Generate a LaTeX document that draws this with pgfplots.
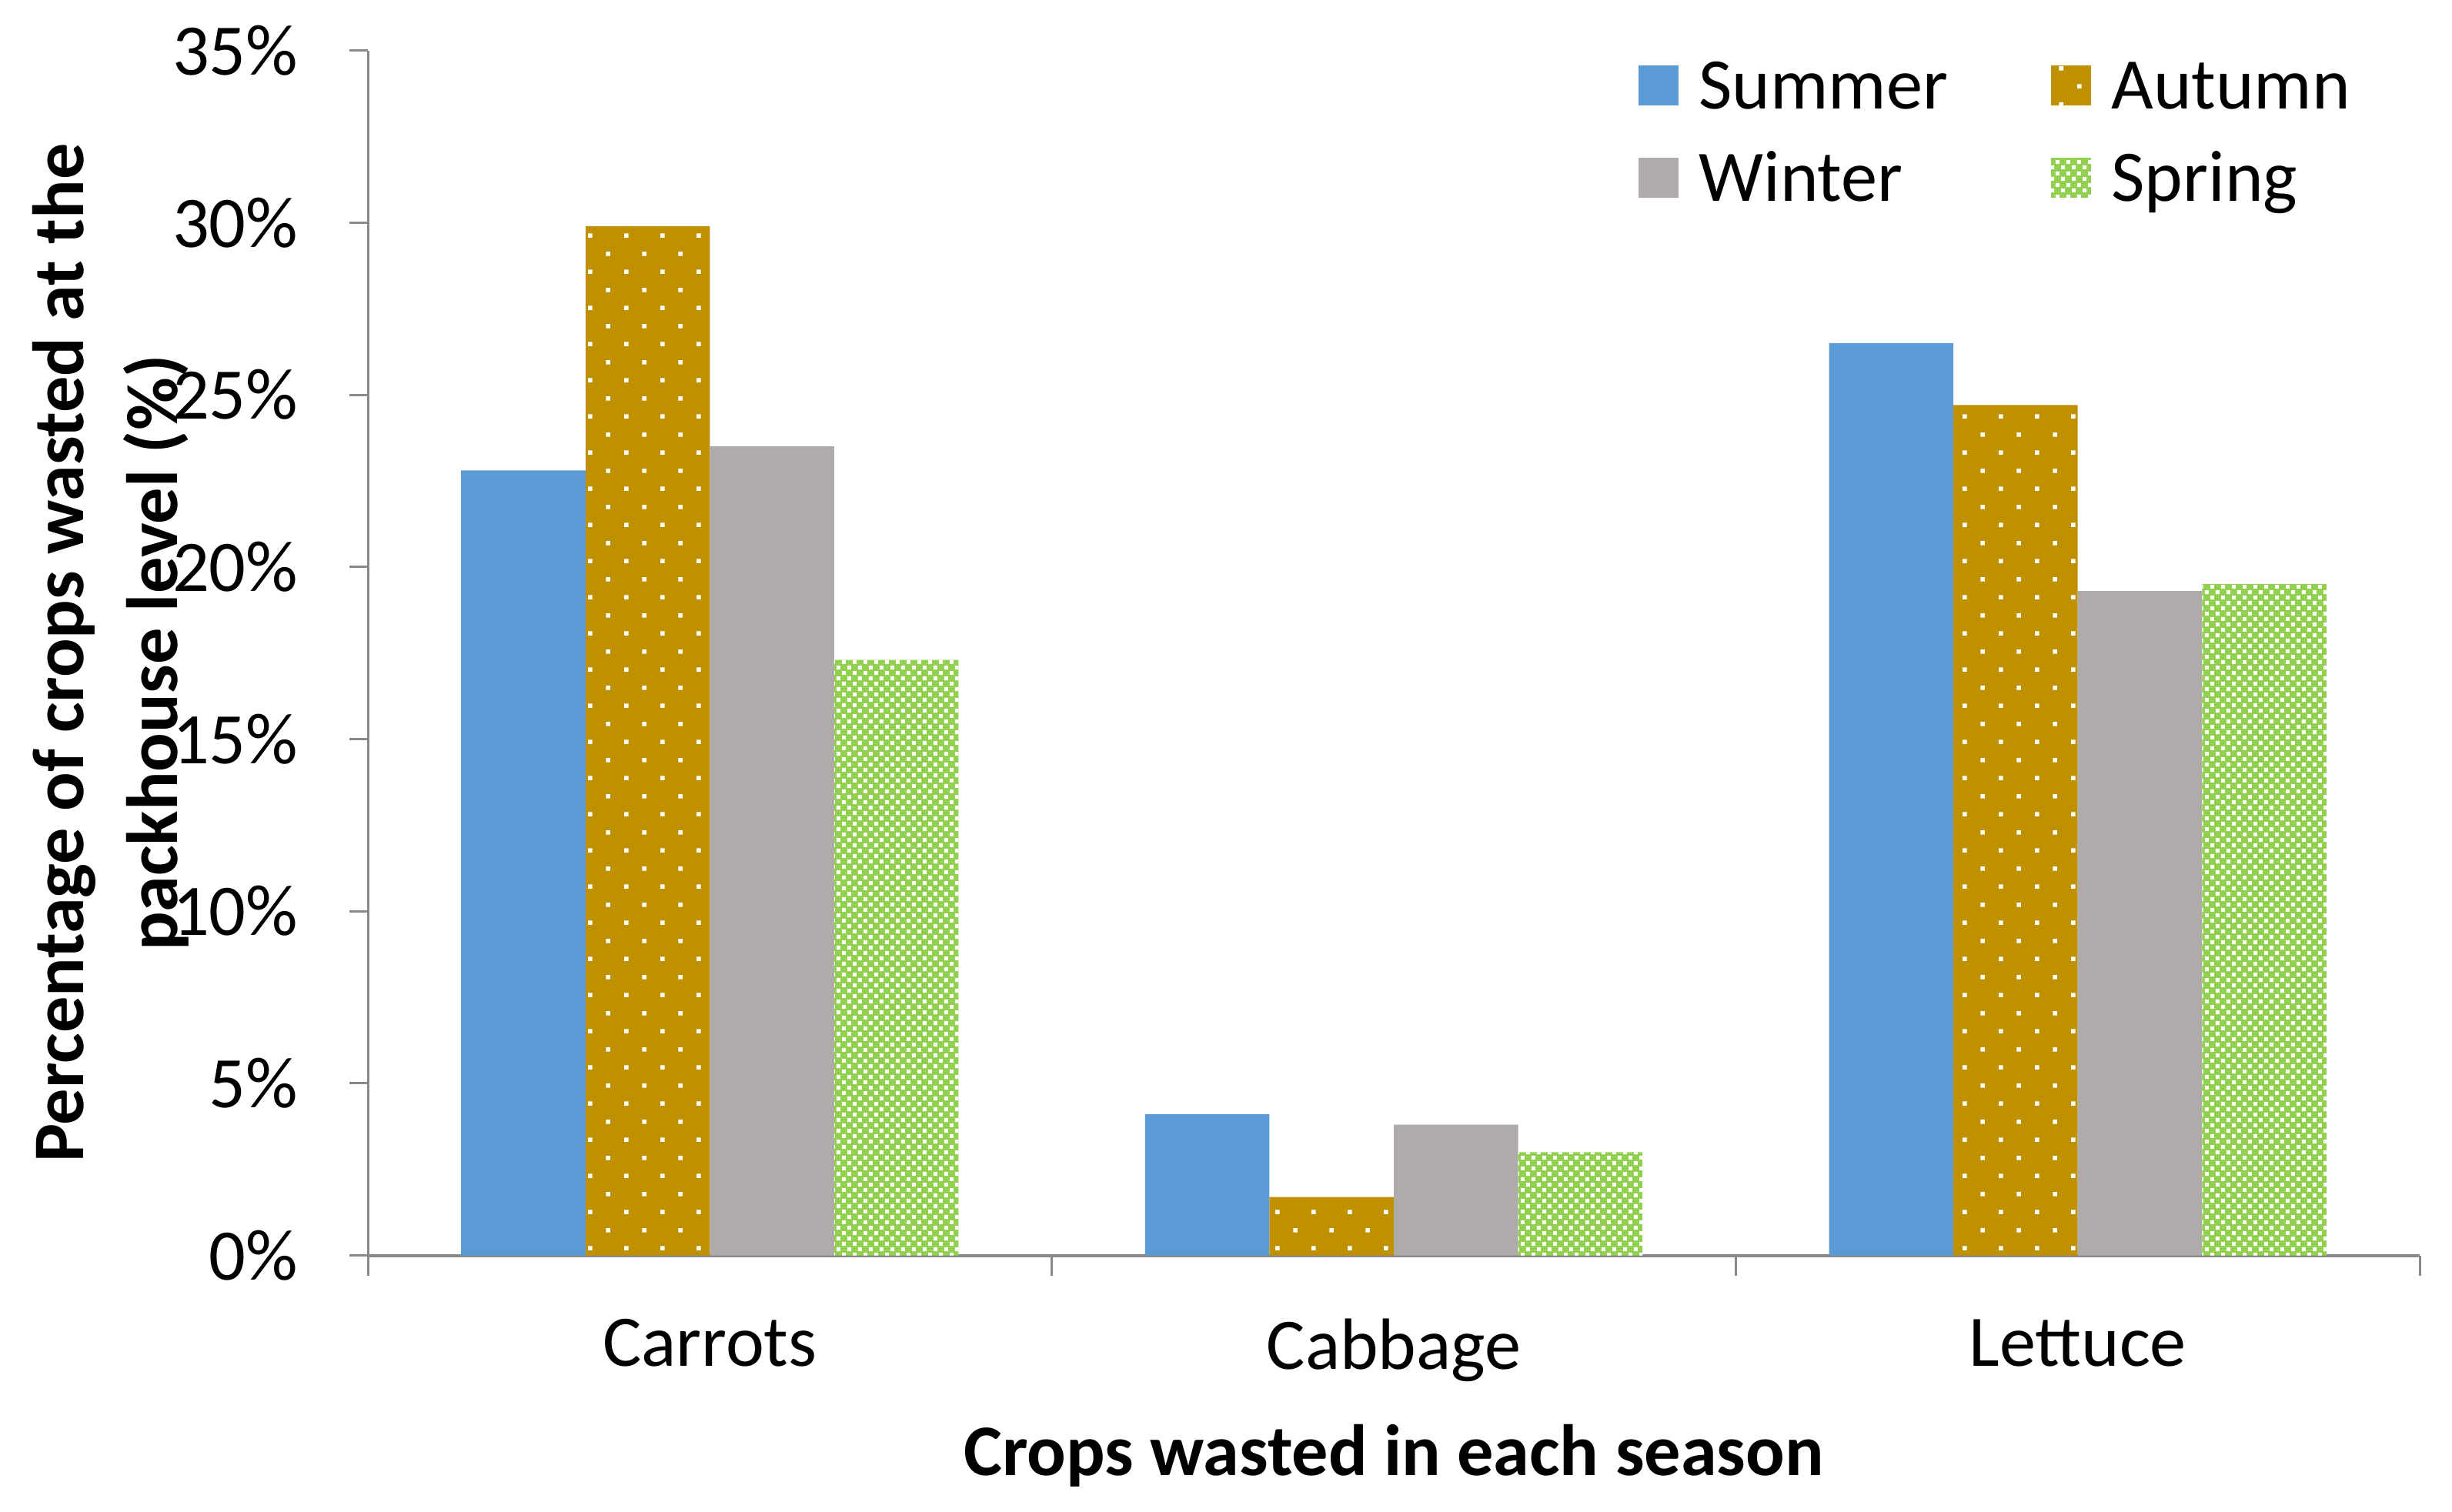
\documentclass[border=0pt]{standalone}
\usepackage{pgfplots}
\pgfplotsset{compat=1.18}
\usetikzlibrary{patterns.meta}
\usepackage{fontspec}
\setmainfont{Carlito}
\definecolor{csummer}{HTML}{5B9BD5}
\definecolor{cautumn}{HTML}{BF9000}
\definecolor{cwinter}{HTML}{AFABAB}
\definecolor{cspring}{HTML}{92D050}
\definecolor{caxis}{HTML}{898989}
\pgfdeclarepattern{
  name=autumndots, type=uncolored,
  bottom left={\pgfpoint{0pt}{0pt}}, top right={\pgfpoint{11.8pt}{11.8pt}},
  tile size={\pgfpoint{11.8pt}{11.8pt}},
  code={\pgfpathrectangle{\pgfpoint{2.3pt}{2.3pt}}{\pgfpoint{1.4pt}{1.4pt}}
        \pgfpathrectangle{\pgfpoint{8.2pt}{8.2pt}}{\pgfpoint{1.4pt}{1.4pt}}
        \pgfusepath{fill}}}
\pgfdeclarepattern{
  name=springchecks, type=uncolored,
  bottom left={\pgfpoint{0pt}{0pt}}, top right={\pgfpoint{3.6pt}{3.6pt}},
  tile size={\pgfpoint{3.6pt}{3.6pt}},
  code={\pgfpathrectangle{\pgfpoint{0pt}{0pt}}{\pgfpoint{1.3pt}{1.3pt}}
        \pgfpathrectangle{\pgfpoint{1.8pt}{1.8pt}}{\pgfpoint{1.3pt}{1.3pt}}
        \pgfusepath{fill}}}
\newcommand{\fs}{\fontsize{23.6}{28}\selectfont}
\begin{document}
\begin{tikzpicture}
\useasboundingbox (0,0) rectangle (796.5pt,491pt);
\begin{axis}[
  at={(119.5pt,83.1pt)}, anchor=south west,
  scale only axis, width=666.5pt, height=391.5pt,
  ybar=0pt, bar width=0.1818,
  xmin=-0.5, xmax=2.5, ymin=0, ymax=35,
  enlargelimits=false,
  axis x line*=bottom, axis y line*=left,
  x axis line style={-, draw=caxis, line width=1pt},
  y axis line style={-, draw=caxis, line width=0.75pt},
  tick align=outside,
  xtick={0,1,2}, xticklabels={Carrots,Cabbage,Lettuce},
  major x tick style={draw=none},
  minor xtick={-0.5,0.5,1.5,2.5},
  minor tick length=6.6pt,
  minor x tick style={draw=caxis, line width=0.75pt},
  ytick={0,5,...,35},
  yticklabels={0\%,5\%,10\%,15\%,20\%,25\%,30\%,35\%},
  major tick length=6pt,
  major y tick style={draw=caxis, line width=0.75pt},
  ticklabel style={font=\fs, inner sep=0pt},
  yticklabel style={anchor=east, xshift=-16.5pt},
  xticklabel style={anchor=north, yshift=-14.5pt},
  xlabel={Crops wasted in each season},
  xlabel style={at={(axis description cs:0.5,-0.1664)}, anchor=center, font=\bfseries\fs},
  ylabel={Percentage of crops wasted at the\\packhouse level (\%)},
  ylabel style={at={(axis description cs:-0.1253,0.5)}, anchor=center, align=center,
    font=\bfseries\fontsize{23.6}{30.6}\selectfont},
  legend columns=2,
  legend cell align=left,
  legend image code/.code={\path[#1] (0pt,-6.5pt) rectangle (13pt,6.5pt); \path (19.6pt,0pt);},
  legend style={at={(0.619,0.992)}, anchor=north west, draw=none, fill=none,
    inner sep=0pt, font=\fs, row sep=14pt, column sep=0pt,
    nodes={inner sep=0pt, text height=15.6pt, text depth=0.4pt},
    /tikz/column 2/.style={column sep=33.5pt}},
]
\addplot[fill=csummer, draw=none] coordinates {(0,22.8) (1,4.1) (2,26.5)};
\addplot[fill=cautumn, draw=none, postaction={pattern=autumndots, pattern color=white}] coordinates {(0,29.9) (1,1.7) (2,24.7)};
\addplot[fill=cwinter, draw=none] coordinates {(0,23.5) (1,3.8) (2,19.3)};
\addplot[fill=cspring, draw=none, postaction={pattern=springchecks, pattern color=white}] coordinates {(0,17.3) (1,3.0) (2,19.5)};
\legend{Summer,Autumn,Winter,Spring}
\end{axis}
\end{tikzpicture}
\end{document}
